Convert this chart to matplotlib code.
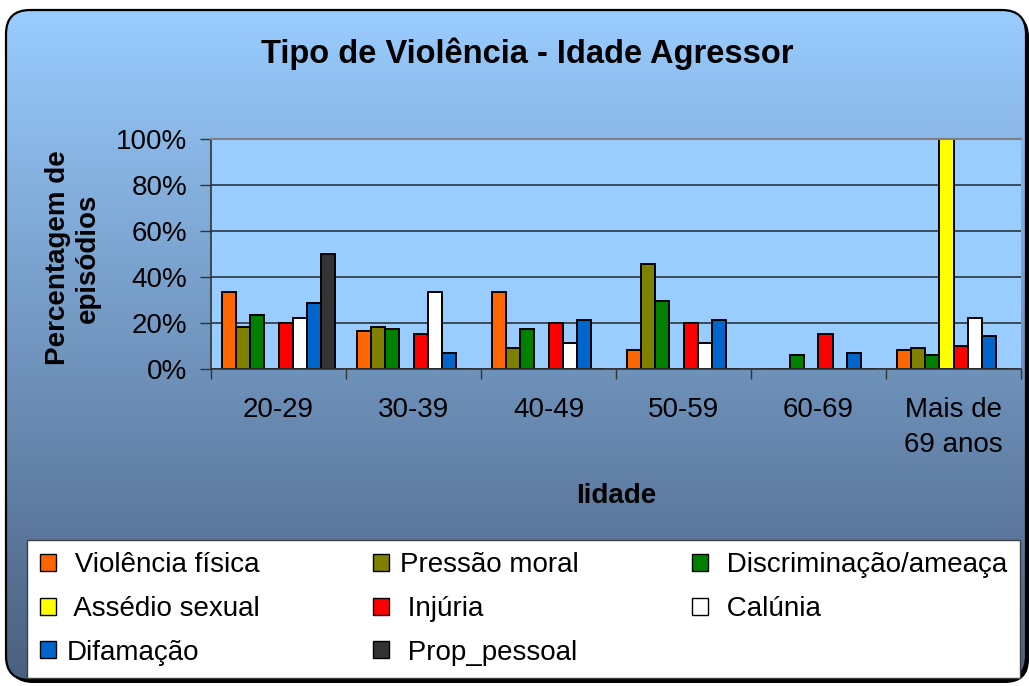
import numpy as np
import matplotlib
matplotlib.use("Agg")
import matplotlib.pyplot as plt
from matplotlib.patches import FancyBboxPatch, Patch
from matplotlib.colors import LinearSegmentedColormap

plt.rcParams['font.family'] = ['Liberation Sans', 'DejaVu Sans']

# dados (% de episodios por faixa etaria do agressor)
idades = ["20-29", "30-39", "40-49", "50-59", "60-69", "Mais de\n69 anos"]
tipos = [" Violência física", "Pressão moral", " Discriminação/ameaça", " Assédio sexual",
         " Injúria", " Calúnia", "Difamação", " Prop_pessoal"]
cores = ["#FF6600", "#808000", "#008000", "#FFFF00", "#FF0000", "#FFFFFF", "#0066CC", "#333333"]

violencia_fisica = [33.3, 16.7, 33.3, 8.3, 0, 8.3]
pressao_moral = [18.2, 18.2, 9.1, 45.5, 0, 9.1]
discriminacao = [23.5, 17.6, 17.6, 29.4, 5.9, 5.9]
assedio_sexual = [0, 0, 0, 0, 0, 100]
injuria = [20, 15, 20, 20, 15, 10]
calunia = [22.2, 33.3, 11.1, 11.1, 0, 22.2]
difamacao = [28.6, 7.1, 21.4, 21.4, 7.1, 14.3]
prop_pessoal = [50, 0, 0, 0, 0, 0]

series = [violencia_fisica, pressao_moral, discriminacao, assedio_sexual,
          injuria, calunia, difamacao, prop_pessoal]

W, H = 1029, 686
fig = plt.figure(figsize=(W / 100, H / 100), dpi=100, facecolor='white')

# fundo: caixa arredondada com degrade
bg = fig.add_axes([0, 0, 1, 1])
bg.set_zorder(0)
bg.axis('off')
shadow = FancyBboxPatch((9, 13), 1020, 670, boxstyle="round,pad=0,rounding_size=24",
                        fc='black', ec='none', zorder=0)
bg.add_patch(shadow)
box = FancyBboxPatch((6, 10), 1020, 670, boxstyle="round,pad=0,rounding_size=24",
                     fc='none', ec='black', lw=1.6, zorder=3)
bg.add_patch(box)
cmap = LinearSegmentedColormap.from_list("fundo", ["#99CCFF", "#4A6080"])
grad = np.linspace(0, 1, 256)[:, None]
im = bg.imshow(grad, cmap=cmap, extent=[6, 1026, 680, 10], aspect='auto', zorder=1)
im.set_clip_path(box)
bg.set_xlim(0, W)
bg.set_ylim(H, 0)

# area do grafico
ax = fig.add_axes([211 / W, 1 - 369 / H, 810 / W, 230 / H])
ax.set_zorder(3)
ax.set_facecolor('#99CCFF')

x = np.arange(len(idades))
w = 1 / 9.5
for j, (vals, cor) in enumerate(zip(series, cores)):
    ax.bar(x + (j - 3.5) * w, vals, width=w, color=cor, edgecolor='black', linewidth=1.4, zorder=2)

ax.set_xlim(-0.5, 5.5)
ax.set_ylim(0, 100)
ax.set_yticks(np.arange(0, 101, 20))
ax.set_yticklabels([f"{v}%" for v in range(0, 101, 20)])
ax.yaxis.grid(True, color='#2B3540', lw=1.2)
ax.set_axisbelow(True)
ax.tick_params(axis='y', labelsize=20, length=8, width=1, color='#333333', pad=9)

ax.set_xticks(np.arange(-0.5, 6, 1))
ax.set_xticklabels([])
ax.tick_params(axis='x', which='major', length=7, width=1, color='#333333')
ax.set_xticks(x, labels=idades, minor=True)
ax.tick_params(axis='x', which='minor', length=0, pad=20, labelsize=20)

ax.spines['right'].set_visible(False)
ax.spines['top'].set_color('#808080')
ax.spines['top'].set_linewidth(1.5)
ax.spines['left'].set_color('#333333')
ax.spines['bottom'].set_color('#333333')
ax.spines['left'].set_linewidth(1.2)
ax.spines['bottom'].set_linewidth(1.2)

# textos
fig.text(527 / W, 1 - 63 / H, "Tipo de Violência - Idade Agressor", ha='center', va='baseline',
         fontsize=23.5, fontweight='bold')
fig.text(73 / W, 1 - 258 / H, "Percentagem de\nepisódios", rotation=90, ha='center', va='center',
         fontsize=20, fontweight='bold', linespacing=1.2)
fig.text(616 / W, 1 - 503 / H, "Iidade", ha='center', va='baseline', fontsize=20, fontweight='bold')

# legenda (ordem por linhas, como no original)
ordem = [0, 3, 6, 1, 4, 7, 2, 5]
handles = [Patch(facecolor=cores[i], edgecolor='black', linewidth=1) for i in ordem]
labels = [tipos[i] for i in ordem]
leg = fig.legend(handles, labels, loc='upper left',
                 bbox_to_anchor=(27 / W, 1 - 677 / H, 993 / W, 137 / H),
                 bbox_transform=fig.transFigure, mode='expand', ncol=3, fontsize=20,
                 frameon=True, fancybox=False, edgecolor='#404040', framealpha=1,
                 borderpad=0.45, labelspacing=0.63, handlelength=0.58, handleheight=0.58,
                 handletextpad=0.4, borderaxespad=0, columnspacing=1)
leg.get_frame().set_linewidth(1.0)
leg.set_zorder(5)

fig.canvas.draw()
for lab in ax.get_xticklabels(minor=True):
    lab.set_linespacing(1.45)

fig.savefig("out.png", dpi=100, facecolor='white')
